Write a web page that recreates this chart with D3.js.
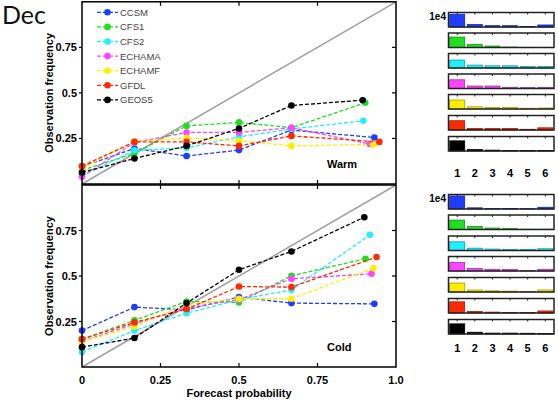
<!DOCTYPE html>
<html>
<head>
<meta charset="utf-8">
<script src="https://cdn.jsdelivr.net/npm/d3@7"></script>
<style>
  body { margin: 0; background: #fff; }
  svg { display: block; font-family: "Liberation Sans", Arial, sans-serif; }
</style>
</head>
<body>
<div id="chart"></div>
<script>
const models = ["CCSM", "CFS1", "CFS2", "ECHAMA", "ECHAMF", "GFDL", "GEOS5"];
const colors = ["#1f3dff", "#1fe01f", "#22eeff", "#ff44ff", "#ffee00", "#ff2a00", "#000000"];

// forecast probability of each bin (last bin differs per model)
const binProb = [0, 0.167, 0.333, 0.5, 0.667];
const warmLastProb = [0.931, 0.902, 0.896, 0.917, 0.928, 0.947, 0.894];
const coldLastProb = [0.931, 0.903, 0.917, 0.922, 0.928, 0.938, 0.899];

// observed frequency per model (warm / cold)
const warmFreq = [
  [0.095, 0.195, 0.154, 0.186, 0.296, 0.255],
  [0.075, 0.168, 0.319, 0.338, 0.309, 0.446],
  [0.045, 0.185, 0.198, 0.259, 0.302, 0.347],
  [0.040, 0.228, 0.283, 0.283, 0.309, 0.219],
  [0.085, 0.233, 0.253, 0.237, 0.209, 0.217],
  [0.098, 0.231, 0.231, 0.209, 0.264, 0.231],
  [0.063, 0.140, 0.209, 0.305, 0.431, 0.460]
];
const coldFreq = [
  [0.200, 0.329, 0.314, 0.384, 0.351, 0.347],
  [0.153, 0.256, 0.360, 0.355, 0.501, 0.595],
  [0.083, 0.200, 0.296, 0.370, 0.424, 0.726],
  [0.140, 0.237, 0.325, 0.370, 0.485, 0.512],
  [0.140, 0.223, 0.342, 0.375, 0.375, 0.543],
  [0.153, 0.245, 0.318, 0.442, 0.439, 0.604],
  [0.109, 0.159, 0.351, 0.534, 0.635, 0.823]
];

// sample counts per bin (units of 1e4)
const warmCounts = [
  [0.88, 0.17, 0.09, 0.09, 0.03, 0.14],
  [0.72, 0.20, 0.10, 0.03, 0.01, 0.01],
  [0.55, 0.20, 0.15, 0.15, 0.10, 0.10],
  [0.60, 0.17, 0.17, 0.08, 0.06, 0.08],
  [0.62, 0.15, 0.10, 0.10, 0.05, 0.07],
  [0.64, 0.10, 0.10, 0.10, 0.05, 0.15],
  [0.70, 0.10, 0.06, 0.04, 0.03, 0.03]
];
const coldCounts = [
  [0.90, 0.08, 0.03, 0.03, 0.02, 0.12],
  [0.65, 0.20, 0.10, 0.06, 0.02, 0.02],
  [0.60, 0.16, 0.10, 0.08, 0.08, 0.12],
  [0.58, 0.17, 0.12, 0.10, 0.04, 0.12],
  [0.62, 0.14, 0.08, 0.06, 0.04, 0.14],
  [0.77, 0.10, 0.06, 0.03, 0.03, 0.14],
  [0.70, 0.12, 0.06, 0.06, 0.05, 0.04]
];

const yTicks = [0.25, 0.5, 0.75];
const xTicks = [0, 0.25, 0.5, 0.75, 1];
const xTickLabels = ["0", "0.25", "0.5", "0.75", "1.0"];
const binLabels = ["1", "2", "3", "4", "5", "6"];

const width = 558, height = 405;
const svg = d3.select("#chart").append("svg")
  .attr("width", width)
  .attr("height", height);

svg.append("text")
  .attr("x", 2).attr("y", 24)
  .style("font-family", "Lato, 'Open Sans', sans-serif")
  .style("font-size", "25px")
  .style("fill", "#111")
  .text("Dec");

const x = d3.scaleLinear().domain([0, 1]).range([82, 396]);

function reliability(y0, y1, probs, lastProb, label, labelY, showLegend, showXLabels) {
  const y = d3.scaleLinear().domain([0, 1]).range([y1, y0]);
  const g = svg.append("g");

  // diagonal
  g.append("line")
    .attr("x1", x(0)).attr("y1", y(0))
    .attr("x2", x(1)).attr("y2", y(1))
    .attr("stroke", "#a0a0a0").attr("stroke-width", 1.5);

  const line = d3.line().x(d => x(d[0])).y(d => y(d[1]));

  probs.forEach((vals, i) => {
    const pts = vals.map((v, j) => [j < 5 ? binProb[j] : lastProb[i], v]);
    g.append("path")
      .attr("d", line(pts))
      .attr("fill", "none")
      .attr("stroke", colors[i])
      .attr("stroke-width", 1.3)
      .attr("stroke-dasharray", "4,2");
    g.selectAll(null).data(pts).enter().append("circle")
      .attr("cx", d => x(d[0])).attr("cy", d => y(d[1]))
      .attr("r", 3.3)
      .attr("fill", colors[i]);
  });

  // frame
  g.append("rect")
    .attr("x", x(0)).attr("y", y(1))
    .attr("width", x(1) - x(0)).attr("height", y(0) - y(1))
    .attr("fill", "none").attr("stroke", "#000").attr("stroke-width", 1.5);

  // left ticks (outside) with labels, right ticks inside
  yTicks.forEach(t => {
    g.append("line").attr("x1", x(0) - 3).attr("x2", x(0))
      .attr("y1", y(t)).attr("y2", y(t)).attr("stroke", "#000").attr("stroke-width", 1.2);
    g.append("line").attr("x1", x(1) - 4).attr("x2", x(1))
      .attr("y1", y(t)).attr("y2", y(t)).attr("stroke", "#000").attr("stroke-width", 1.2);
    g.append("text")
      .attr("x", x(0) - 5).attr("y", y(t) + 4)
      .attr("text-anchor", "end")
      .style("font-size", "11px").style("font-weight", "bold")
      .text(d3.format("")(t));
  });
  // top / bottom ticks inside
  xTicks.slice(1, 4).forEach(t => {
    g.append("line").attr("x1", x(t)).attr("x2", x(t))
      .attr("y1", y(1)).attr("y2", y(1) + 4).attr("stroke", "#000").attr("stroke-width", 1.2);
    g.append("line").attr("x1", x(t)).attr("x2", x(t))
      .attr("y1", y(0)).attr("y2", y(0) - 4).attr("stroke", "#000").attr("stroke-width", 1.2);
  });

  g.append("text")
    .attr("transform", `translate(53,${(y0 + y1) / 2}) rotate(-90)`)
    .attr("text-anchor", "middle")
    .style("font-size", "11px").style("font-weight", "bold")
    .text("Observation frequency");

  g.append("text")
    .attr("x", 327).attr("y", labelY)
    .style("font-size", "11px").style("font-weight", "bold")
    .text(label);

  if (showLegend) {
    const lg = g.append("g");
    models.forEach((m, i) => {
      const ly = 12.3 + i * 14.6;
      lg.append("line").attr("x1", 97).attr("x2", 118)
        .attr("y1", ly).attr("y2", ly)
        .attr("stroke", colors[i]).attr("stroke-width", 1.3).attr("stroke-dasharray", "4,2");
      lg.append("circle").attr("cx", 107.5).attr("cy", ly).attr("r", 3.3).attr("fill", colors[i]);
      lg.append("text").attr("x", 120).attr("y", ly + 3.5)
        .style("font-size", "9.5px").style("fill", "#444").text(m);
    });
  }

  if (showXLabels) {
    xTicks.forEach((t, i) => {
      g.append("text")
        .attr("x", x(t)).attr("y", y(0) + 17)
        .attr("text-anchor", "middle")
        .style("font-size", "11px").style("font-weight", "bold")
        .text(xTickLabels[i]);
    });
    g.append("text")
      .attr("x", x(0.5)).attr("y", y(0) + 30)
      .attr("text-anchor", "middle")
      .style("font-size", "11px").style("font-weight", "bold")
      .text("Forecast probability");
  }
}

reliability(1.8, 184, warmFreq, warmLastProb, "Warm", 168, true, false);
reliability(185, 367, coldFreq, coldLastProb, "Cold", 351, false, true);

// sample-size histograms
function histograms(tops, counts, labelY) {
  const hx = d3.scaleBand().domain(binLabels).range([448.5, 554]).paddingInner(0.15).paddingOuter(0.07);
  counts.forEach((c, i) => {
    const top = tops[i], h = 14.5;
    const hy = d3.scaleLinear().domain([0, 1]).range([top + h, top]);
    const g = svg.append("g");
    g.selectAll("rect.bar").data(c).enter().append("rect")
      .attr("x", (d, j) => hx(binLabels[j]))
      .attr("y", d => hy(d))
      .attr("width", hx.bandwidth())
      .attr("height", d => hy(0) - hy(d))
      .attr("fill", colors[i])
      .attr("stroke", d3.color(colors[i]).darker(1.2))
      .attr("stroke-width", 0.8);
    g.append("rect")
      .attr("x", 448.5).attr("y", top)
      .attr("width", 554 - 448.5).attr("height", h)
      .attr("fill", "none").attr("stroke", "#222").attr("stroke-width", 1.5);
    binLabels.forEach(b => {
      const cx = hx(b) + hx.bandwidth() / 2;
      g.append("line").attr("x1", cx).attr("x2", cx)
        .attr("y1", top).attr("y2", top + 2)
        .attr("stroke", "#222").attr("stroke-width", 1);
    });
  });
  svg.append("text")
    .attr("x", 446).attr("y", tops[0] + 7)
    .attr("text-anchor", "end")
    .style("font-size", "10px").style("font-weight", "bold")
    .text("1e4");
  binLabels.forEach(b => {
    svg.append("text")
      .attr("x", hx(b) + hx.bandwidth() / 2).attr("y", labelY)
      .attr("text-anchor", "middle")
      .style("font-size", "11px").style("font-weight", "bold")
      .text(b);
  });
}

const warmTops = [12.5, 33, 53.5, 74, 94.5, 115.5, 136.5];
const coldTops = [194.5, 215, 236, 256.5, 277.5, 298.5, 319.5];
histograms(warmTops, warmCounts, 177);
histograms(coldTops, coldCounts, 351.5);
</script>
</body>
</html>
